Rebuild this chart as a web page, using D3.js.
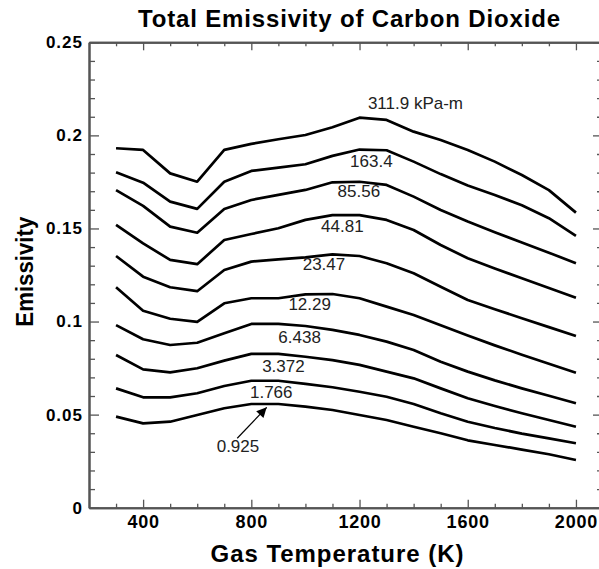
<!DOCTYPE html>
<html>
<head>
<meta charset="utf-8">
<script src="https://cdn.jsdelivr.net/npm/d3@7/dist/d3.min.js"></script>
<style>
  body { margin: 0; background: #fff; }
  text { font-family: Arial, "Liberation Sans", Helvetica, sans-serif; }
</style>
</head>
<body>
<div id="chart"></div>
<script>
// gas temperature (K)
const temps = [300, 400, 500, 600, 700, 800, 900, 1000, 1100, 1200, 1300, 1400, 1500, 1600, 1700, 1800, 1900, 2000];

// emissivity per path length (kPa-m)
const e311_9 = [.1931, .1922, .1796, .1751, .1922, .1954, .1979, .2002, .2044, .2095, .2083, .2020, .1975, .1922, .1859, .1787, .1706, .1585];
const e163_4 = [.1802, .1746, .1644, .1605, .1751, .1809, .1827, .1845, .1890, .1924, .1920, .1859, .1792, .1731, .1680, .1625, .1555, .1460];
const e85_56 = [.1706, .1621, .1510, .1477, .1605, .1653, .1680, .1707, .1748, .1751, .1734, .1671, .1599, .1537, .1480, .1425, .1370, .1313];
const e44_81 = [.1519, .1420, .1331, .1308, .1438, .1470, .1501, .1546, .1572, .1572, .1546, .1492, .1411, .1340, .1285, .1232, .1180, .1128];
const e23_47 = [.1352, .1241, .1184, .1163, .1277, .1322, .1334, .1345, .1361, .1352, .1313, .1259, .1187, .1116, .1066, .1018, .0970, .0922];
const e12_29 = [.1184, .1058, .1015, .0998, .1098, .1125, .1125, .1146, .1148, .1125, .1080, .1035, .0980, .0925, .0872, .0822, .0773, .0725];
const e6_438 = [.0981, .0905, .0874, .0886, .0937, .0987, .0987, .0976, .0955, .0928, .0892, .0847, .0784, .0731, .0684, .0641, .0601, .0561];
const e3_372 = [.0820, .0743, .0727, .0749, .0790, .0826, .0826, .0811, .0793, .0767, .0731, .0695, .0641, .0588, .0546, .0507, .0471, .0435];
const e1_766 = [.0641, .0593, .0593, .0615, .0654, .0682, .0682, .0665, .0647, .0623, .0596, .0557, .0507, .0462, .0428, .0398, .0372, .0346];
const e0_925 = [.0489, .0453, .0462, .0498, .0534, .0557, .0557, .0543, .0525, .0498, .0471, .0435, .0400, .0362, .0337, .0312, .0287, .0256];

const seriesLabels = ["311.9 kPa-m", "163.4", "85.56", "44.81", "23.47", "12.29", "6.438", "3.372", "1.766", "0.925"];
const seriesValues = [e311_9, e163_4, e85_56, e44_81, e23_47, e12_29, e6_438, e3_372, e1_766, e0_925];

// where each curve label sits, in data units [T, emissivity]
const labelAt = [[1231, .2142], [1165, .1832], [1119, .1671], [1058, .1483], [990, .1277],
                 [937, .1062], [900, .0883], [840, .0731], [795, .0588], [672, .0301]];
const arrowFrom = [748, .0373];
const arrowTo = [857, .0539];

const xMajor = [400, 800, 1200, 1600, 2000];
const xMinor = [300, 500, 600, 700, 900, 1000, 1100, 1300, 1400, 1500, 1700, 1800, 1900, 2100];
const yMajor = [0, 0.05, 0.1, 0.15, 0.2, 0.25];
const yMinor = d3.range(1, 25).filter(i => i % 5).map(i => i / 100);

function renderChart(selector = "#chart") {
    const container = d3.select(selector);
    container.html("");

    const width = 599;
    const height = 569;
    const left = 89, right = 603, top = 42.3, bottom = 507.7;

    const svg = container.append("svg")
        .attr("width", width)
        .attr("height", height)
        .style("display", "block");

    const x = d3.scaleLinear().domain([200, 2100]).range([left, right]);
    const y = d3.scaleLinear().domain([0, 0.25]).range([bottom, top]);

    const axisColor = "#555";

    function drawAxis(gen, tr, values, size, pad, fmt) {
        const g = svg.append("g")
            .attr("transform", tr)
            .call(gen.tickValues(values).tickSizeInner(-size).tickSizeOuter(0)
                .tickPadding(pad)
                .tickFormat(fmt || ""));
        g.select(".domain").attr("stroke", axisColor).attr("stroke-width", 2);
        g.selectAll(".tick line").attr("stroke", axisColor).attr("stroke-width", 1.3);
        g.selectAll(".tick text")
            .attr("fill", "#000")
            .style("font-weight", "bold")
            .style("font-family", "Arial, 'Liberation Sans', sans-serif");
        return g;
    }

    // bottom
    drawAxis(d3.axisBottom(x), `translate(0,${bottom})`, xMinor, 4, 0);
    drawAxis(d3.axisBottom(x), `translate(0,${bottom})`, xMajor, 8, 8, d3.format("d"))
        .selectAll(".tick text").style("font-size", "18px").style("letter-spacing", "0.8px");
    // top
    drawAxis(d3.axisTop(x), `translate(0,${top})`, xMinor, 4, 0);
    drawAxis(d3.axisTop(x), `translate(0,${top})`, xMajor, 8, 0);
    // left
    drawAxis(d3.axisLeft(y), `translate(${left},0)`, yMinor, 6, 0);
    drawAxis(d3.axisLeft(y), `translate(${left},0)`, yMajor, 10, 6, d => d === 0 ? "0" : String(+d.toFixed(2)))
        .selectAll(".tick text").style("font-size", "17px").style("letter-spacing", "1px");
    // right
    drawAxis(d3.axisRight(y), `translate(${right},0)`, yMinor, 6, 0);
    drawAxis(d3.axisRight(y), `translate(${right},0)`, yMajor, 10, 0);

    // curves
    const line = d3.line()
        .x((d, i) => x(temps[i]))
        .y(d => y(d));

    svg.append("g")
        .selectAll("path")
        .data(seriesValues)
        .join("path")
        .attr("d", line)
        .attr("fill", "none")
        .attr("stroke", "#000")
        .attr("stroke-width", 2.7)
        .attr("stroke-linejoin", "round");

    // curve labels
    svg.append("g")
        .selectAll("text")
        .data(seriesLabels)
        .join("text")
        .attr("x", (d, i) => x(labelAt[i][0]))
        .attr("y", (d, i) => y(labelAt[i][1]))
        .attr("font-size", 17)
        .attr("fill", "#222")
        .text(d => d);

    // arrow for the lowest curve
    svg.append("defs").append("marker")
        .attr("id", "head")
        .attr("viewBox", "0 0 10 10")
        .attr("refX", 10).attr("refY", 5)
        .attr("markerWidth", 13).attr("markerHeight", 10)
        .attr("markerUnits", "userSpaceOnUse")
        .attr("orient", "auto")
        .append("path")
        .attr("d", "M0,0L10,5L0,10Z")
        .attr("fill", "#000");

    svg.append("line")
        .attr("x1", x(arrowFrom[0])).attr("y1", y(arrowFrom[1]))
        .attr("x2", x(arrowTo[0])).attr("y2", y(arrowTo[1]))
        .attr("stroke", "#000")
        .attr("stroke-width", 1.2)
        .attr("marker-end", "url(#head)");

    // titles
    svg.append("text")
        .attr("x", 349).attr("y", 27)
        .attr("text-anchor", "middle")
        .attr("font-size", 24).attr("font-weight", "bold")
        .attr("textLength", 422).attr("lengthAdjust", "spacing")
        .text("Total Emissivity of Carbon Dioxide");

    svg.append("text")
        .attr("x", 337).attr("y", 561.5)
        .attr("text-anchor", "middle")
        .attr("font-size", 24).attr("font-weight", "bold")
        .attr("textLength", 253).attr("lengthAdjust", "spacing")
        .text("Gas Temperature (K)");

    svg.append("text")
        .attr("transform", "translate(33,271.7) rotate(-90)")
        .attr("text-anchor", "middle")
        .attr("font-size", 24).attr("font-weight", "bold")
        .attr("textLength", 110).attr("lengthAdjust", "spacingAndGlyphs")
        .text("Emissivity");
}

renderChart();
</script>
</body>
</html>
